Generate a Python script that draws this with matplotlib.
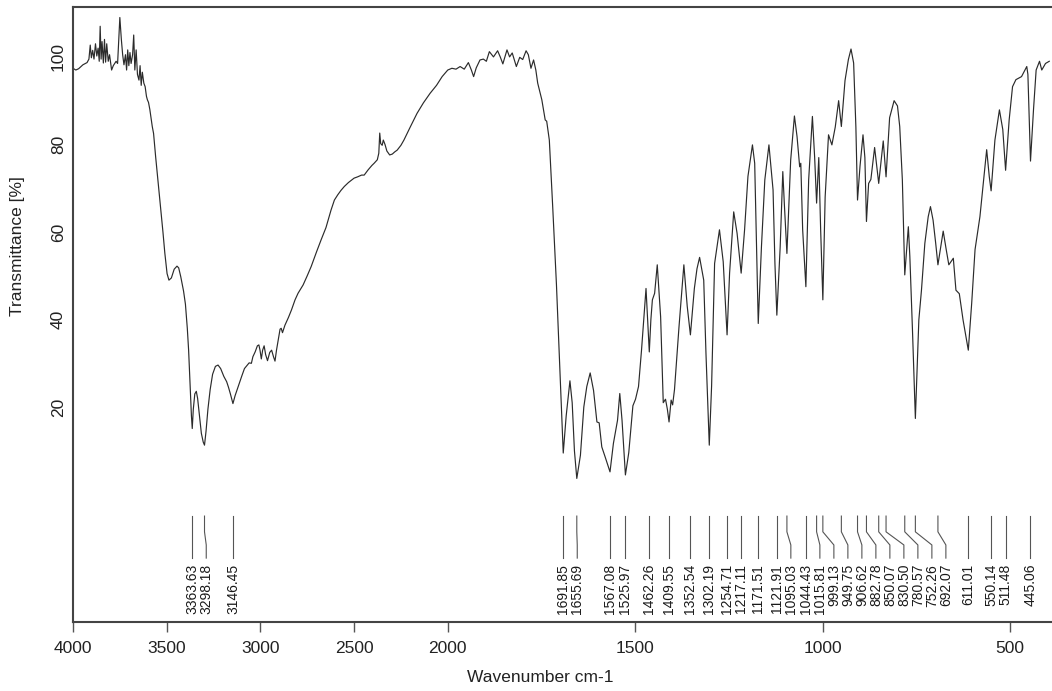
import numpy as np
import matplotlib
matplotlib.use("Agg")
import matplotlib.pyplot as plt

plt.rcParams['font.family'] = ['Liberation Sans', 'DejaVu Sans']

# ---- spectrum (wavenumber cm-1, transmittance %) ----
wavenumber = [
    4000, 3985, 3970, 3947, 3925, 3915, 3908, 3902, 3895, 3888, 3880, 3873, 3866, 3860, 3855, 3850,
    3845, 3838, 3832, 3826, 3820, 3812, 3805, 3794, 3785, 3770, 3762, 3750, 3742, 3735, 3728, 3720,
    3714, 3708, 3702, 3696, 3690, 3682, 3676, 3670, 3663, 3656, 3648, 3642, 3636, 3630, 3622, 3615,
    3608, 3603, 3597, 3590, 3577, 3570, 3559, 3545, 3533, 3520, 3510, 3498, 3488, 3475, 3460, 3445,
    3436, 3425, 3410, 3400, 3390, 3383, 3375, 3368, 3363.63, 3358, 3350, 3342, 3335, 3325, 3315, 3305,
    3298.18, 3290, 3280, 3268, 3255, 3240, 3226, 3212, 3195, 3180, 3170, 3160, 3146.45, 3135, 3120, 3100,
    3085, 3070, 3060, 3048, 3040, 3028, 3016, 3008, 3002, 2995, 2988, 2980, 2972, 2962, 2950, 2940,
    2930, 2922, 2914, 2905, 2895, 2889, 2882, 2869, 2850, 2834, 2815, 2799, 2785, 2772, 2750, 2729,
    2700, 2676, 2650, 2623, 2605, 2587, 2570, 2552, 2530, 2500, 2481, 2460, 2446, 2425, 2405, 2393,
    2376, 2368, 2363, 2358, 2350, 2344, 2335, 2325, 2310, 2296, 2283, 2270, 2250, 2234, 2200, 2164,
    2130, 2094, 2060, 2030, 2014, 2000, 1989, 1978, 1967, 1956, 1945, 1937, 1931, 1924, 1914, 1905,
    1897, 1889, 1878, 1867, 1860, 1853, 1842, 1835, 1828, 1817, 1808, 1800, 1791, 1785, 1778, 1771,
    1765, 1760, 1749, 1740, 1736, 1729, 1720, 1710, 1700, 1691.85, 1684, 1674, 1668, 1662, 1655.69, 1646,
    1637, 1629, 1620, 1611, 1602, 1596, 1589, 1580, 1567.08, 1558, 1547, 1541, 1535, 1525.97, 1517, 1506,
    1499, 1491, 1483, 1476, 1471, 1467, 1462.26, 1458, 1454, 1448, 1441, 1432, 1425, 1419, 1414, 1409.55,
    1404, 1400, 1395, 1383, 1370, 1361, 1352.54, 1342, 1335, 1328, 1317, 1311, 1302.19, 1296, 1288, 1275,
    1265, 1254.71, 1248, 1237, 1228, 1217.11, 1208, 1199, 1187, 1181, 1177, 1171.51, 1163, 1154, 1143, 1132,
    1127, 1121.91, 1113, 1106, 1102, 1095.03, 1085, 1075, 1068, 1061, 1058, 1053, 1044.43, 1037, 1027, 1021,
    1015.81, 1010, 1005, 999.13, 993, 984, 975, 966, 957, 949.75, 940, 931, 924, 917, 911, 906.62,
    900, 892, 887, 882.78, 877, 871, 861, 850.07, 838, 830.50, 821, 809, 800, 794, 787, 780.57,
    771, 767, 760, 752.26, 743, 736, 727, 718, 712, 705, 698, 692.07, 678, 670, 663, 651,
    644, 635, 625, 611.01, 602, 593, 580, 562, 555, 550.14, 540, 528, 519, 511.48, 502, 493,
    484, 469, 455, 452, 445.06, 437, 430, 421, 415, 405, 395,
]
transmittance = [
    97.4, 97.0, 97.3, 98.2, 98.7, 99.5, 102.7, 99.8, 101.5, 99.5, 103.0, 100.2, 102.0, 99.0, 107.0, 99.5,
    103.5, 98.6, 104.0, 98.8, 103.0, 99.0, 100.5, 97.0, 98.0, 99.0, 98.5, 109.0, 104.0, 100.5, 98.2, 100.5,
    97.0, 101.6, 98.0, 101.0, 98.5, 100.5, 105.0, 97.0, 101.6, 96.0, 94.7, 98.0, 93.5, 96.5, 94.0, 93.2,
    91.0, 90.2, 89.6, 88.0, 84.1, 82.5, 77.2, 71.0, 65.8, 60.0, 55.2, 50.5, 49.0, 49.5, 51.5, 52.2,
    51.8, 49.8, 46.5, 43.5, 38.0, 33.0, 25.0, 18.0, 15.1, 19.5, 23.0, 23.6, 22.0, 18.0, 14.0, 12.0,
    11.3, 14.5, 19.5, 24.0, 27.5, 29.3, 29.6, 28.8, 27.0, 25.8, 24.5, 23.0, 20.8, 22.6, 24.5, 27.0,
    28.8, 29.6, 30.1, 30.0, 31.5, 32.6, 34.0, 34.2, 33.0, 31.0, 33.0, 34.0, 32.0, 30.6, 32.5, 33.0,
    31.5, 30.5, 33.0, 35.3, 37.8, 38.0, 37.0, 38.7, 40.5, 42.2, 44.5, 46.0, 47.0, 47.9, 50.0, 52.1,
    55.5, 58.2, 61.0, 65.0, 67.3, 68.5, 69.5, 70.4, 71.3, 72.3, 72.6, 73.0, 73.0, 74.2, 75.2, 75.7,
    76.5, 78.0, 82.6, 80.2, 79.8, 81.0, 80.0, 78.5, 77.6, 77.8, 78.3, 78.7, 79.8, 81.0, 84.0, 87.1,
    89.5, 91.7, 93.5, 95.5, 96.3, 97.0, 97.4, 97.2, 97.8, 97.2, 98.7, 97.0, 95.5, 97.5, 99.3, 99.5,
    99.0, 101.2, 100.0, 101.4, 100.0, 98.4, 101.6, 100.0, 100.9, 97.8, 99.9, 99.4, 101.4, 100.5, 97.4, 99.3,
    97.0, 94.0, 90.2, 85.6, 85.3, 81.0, 65.8, 48.0, 27.0, 9.5, 18.0, 26.0, 21.0, 10.0, 3.7, 9.0,
    20.0, 24.7, 27.8, 23.8, 16.6, 16.4, 10.9, 8.6, 5.2, 11.7, 17.0, 23.1, 17.0, 4.5, 9.6, 20.3,
    21.8, 24.7, 33.0, 41.4, 47.1, 40.6, 32.6, 40.0, 44.5, 46.0, 52.5, 40.6, 21.0, 21.8, 19.5, 16.6,
    21.6, 20.5, 24.0, 38.3, 52.5, 43.0, 36.5, 47.1, 51.6, 54.2, 49.0, 32.2, 11.3, 24.8, 52.8, 60.5,
    53.2, 36.5, 50.6, 64.6, 59.7, 50.6, 60.5, 72.7, 79.9, 75.7, 60.5, 39.1, 56.6, 71.9, 79.9, 69.6,
    52.8, 41.0, 56.6, 73.8, 66.6, 55.1, 76.4, 86.5, 81.8, 74.9, 75.7, 60.5, 47.5, 71.9, 86.4, 77.0,
    66.6, 77.0, 60.5, 44.5, 68.0, 82.2, 79.9, 84.0, 90.0, 84.1, 94.6, 99.4, 101.8, 98.6, 84.0, 67.3,
    75.0, 82.2, 77.0, 62.4, 71.1, 72.0, 79.3, 71.1, 80.8, 72.6, 86.1, 90.0, 88.8, 84.1, 71.9, 50.2,
    61.2, 54.4, 37.6, 17.4, 39.9, 46.7, 57.4, 63.5, 65.8, 62.7, 57.4, 52.5, 60.2, 56.0, 52.5, 54.0,
    46.7, 45.9, 39.9, 33.0, 43.7, 56.0, 63.5, 78.8, 72.6, 69.4, 81.0, 87.9, 83.4, 74.1, 85.6, 93.2,
    94.8, 95.5, 97.8, 96.0, 76.2, 88.0, 97.0, 99.0, 97.0, 98.5, 99.0,
]

# ---- annotated peaks ----
peaks = [3363.63, 3298.18, 3146.45, 1691.85, 1655.69, 1567.08, 1525.97, 1462.26, 1409.55,
         1352.54, 1302.19, 1254.71, 1217.11, 1171.51, 1121.91, 1095.03, 1044.43, 1015.81,
         999.13, 949.75, 906.62, 882.78, 850.07, 830.50, 780.57, 752.26, 692.07, 611.01,
         550.14, 511.48, 445.06]

x_ticks = [4000, 3500, 3000, 2500, 2000, 1500, 1000, 500]
y_ticks = [20, 40, 60, 80, 100]


def fwd(x):
    x = np.asarray(x, dtype=float)
    return np.where(x > 2000, 2000 + (x - 2000) / 2.0, x)


def inv(y):
    y = np.asarray(y, dtype=float)
    return np.where(y > 2000, 2000 + 2.0 * (y - 2000), y)


W, H = 1052, 691
fig = plt.figure(figsize=(W / 100, H / 100), dpi=100)
ax = fig.add_axes([73 / W, 69 / H, 989 / W, 615 / H])
ax.set_xscale('function', functions=(fwd, inv))
ax.set_xlim(4000, 361)
ax.set_ylim(-29.1, 111.4)

ax.plot(wavenumber, transmittance, color='#2b2b2b', lw=0.85)

for s in ax.spines.values():
    s.set_color('#444444')
    s.set_linewidth(1.5)

ax.set_xticks(x_ticks)
ax.set_xticklabels([str(t) for t in x_ticks])
ax.set_yticks(y_ticks)
ax.set_yticklabels([str(t) for t in y_ticks])
ax.tick_params(axis='x', direction='out', length=7, width=1, color='#555555',
               labelsize=12.5, pad=7, labelcolor='#222222')
ax.tick_params(axis='y', length=0, pad=5, labelsize=12.5, labelrotation=90,
               labelcolor='#222222')
for lab in ax.get_yticklabels():
    lab.set_va('center')

# ---- peak label layout (greedy spread in display space) ----
pk = np.array(peaks)
disp = ax.transData.transform(np.column_stack([pk, np.zeros_like(pk)]))[:, 0]
pos = disp.copy()
for i in range(1, len(pos)):
    pos[i] = max(disp[i], pos[i - 1] + 14)
lab_x = ax.transData.inverted().transform(np.column_stack([pos, np.zeros_like(pos)]))[:, 0]

for p, lx in zip(peaks, lab_x):
    ax.plot([p, p, lx, lx], [-4.9, -8.5, -11.5, -14.5], color='#555555', lw=0.8,
            clip_on=False)
    ax.text(lx, -15.8, f"{p:.2f}", rotation=90, ha='center', va='top',
            fontsize=10, color='#1a1a1a')

fig.text(540 / W, 1 - 677 / H, "Wavenumber cm-1", ha='center', va='center',
         fontsize=12.5, color='#222222')
fig.text(17.5 / W, 1 - 246 / H, "Transmittance [%]", ha='center', va='center',
         rotation=90, fontsize=12.5, color='#222222')

fig.savefig("out.png", dpi=100)
